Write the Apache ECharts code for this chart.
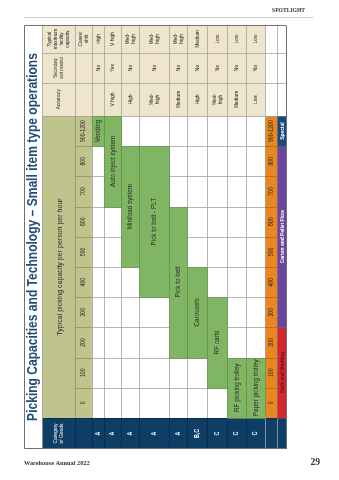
<!DOCTYPE html>
<html>
<head>
<meta charset="utf-8">
<script src="https://cdn.jsdelivr.net/npm/echarts@6/dist/echarts.min.js"></script>
<style>
  html, body { margin: 0; padding: 0; background: #ffffff; }
  #chart { width: 339px; height: 480px; }
</style>
</head>
<body>
<div id="chart"></div>
<script>
// ---- table content -------------------------------------------------------
const technologies = ['Vending', 'Auto inject system', 'Miniload system', 'Pick to belt - PLT',
  'Pick to belt', 'Carousels', 'RF carts', 'RF picking trolley', 'Paper picking trolley'];
const goodsCategory = ['A', 'A', 'A', 'A', 'A', 'B,C', 'C', 'C', 'C'];
const tickLabels = ['0', '100', '200', '300', '400', '500', '600', '700', '800', '900-1200'];
// picking capacity band of each technology (first and last tick it covers)
const capacityLow = ['900-1200', '700', '500', '400', '200', '200', '100', '0', '0'];
const capacityHigh = ['900-1200', '900-1200', '800', '800', '600', '400', '300', '100', '100'];
const accuracy = ['', 'V high', 'High', 'Med-high', 'Medium', 'High', 'Med-high', 'Medium', 'Low'];
const secondarySort = ['No', 'Yes', 'No', 'No', 'No', 'No', 'No', 'No', 'No'];
const facilityCapacity = ['High', 'V high', 'Med-high', 'Med-high', 'Med-high', 'Medium', 'Low', 'Low', 'Low'];
const storageTypes = ['Rack and Shelving', 'Carton and Pallet Flow', 'Special'];
const storageLow = ['0', '300', '900-1200'];
const storageHigh = ['200', '800', '900-1200'];

// ---- layout & style --------------------------------------------------------
const rowWeight = [12, 17, 18, 30, 18, 20, 20, 19, 19];
const rowEdge = rowWeight.reduce((a, w) => { a.push(a[a.length - 1] + w); return a; }, [0]);
const rowTotal = rowEdge[rowEdge.length - 1];

const FRAME = { l: 24, t: 25, r: 287, b: 449 };
const X = { title: 24, head: 42, sub: 75, rows: 92, tick: 265, store: 277, end: 287 };
const Y = { cap: 25, sec: 53, acc: 83, pick: 116, cat: 418, end: 449 };

const COL = {
  olive: '#bfc48c', oliveLine: '#8f9561', green: '#80b564', greenEdge: '#5d8f45',
  beige: '#eee5cc', navy: '#0e3d66', navyLine: '#082a4a', orange: '#ea861f', orangeLine: '#b8651a',
  red: '#d4262f', purple: '#6c449d', special: '#174a78', title: '#1f4e7a',
  grid: '#a3a3a3', frame: '#707070', text: '#262626'
};
const SANS = "'Liberation Sans', Arial, sans-serif";
const SERIF = "'Liberation Serif', 'DejaVu Serif', serif";
const NARROW = 0.82;
const ROT = Math.PI / 2;

function vtext(x, y, text, size, opt) {
  opt = opt || {};
  return {
    type: 'text', x: x, y: y, rotation: ROT, scaleX: opt.scale || NARROW, z: opt.z || 8,
    silent: true,
    style: {
      text: text, fill: opt.fill || COL.text, align: 'center', verticalAlign: 'middle',
      font: (opt.weight || 'normal') + ' ' + size + 'px ' + (opt.family || SANS),
      lineHeight: opt.lineHeight || Math.round(size * 1.05)
    }
  };
}
function rect(x0, y0, x1, y1, fill, z) {
  return { type: 'rect', z: z || 1, silent: true, shape: { x: x0, y: y0, width: x1 - x0, height: y1 - y0 }, style: { fill: fill } };
}
function line(x0, y0, x1, y1, stroke, z, w) {
  return { type: 'line', z: z || 2, silent: true, shape: { x1: x0, y1: y0, x2: x1, y2: y1 }, style: { stroke: stroke, lineWidth: w || 0.8 } };
}
const mid = (a, b) => (a + b) / 2;
const split = s => s === 'Med-high' ? 'Med-\nhigh' : s;

// ---- fixed table furniture -------------------------------------------------
const furniture = [
  // page header / footer
  line(24, 17.5, 313, 17.5, '#c9c9c9', 2, 1),
  { type: 'text', x: 305, y: 11, z: 8, silent: true, style: { text: 'SPOTLIGHT', fill: '#333', align: 'right', verticalAlign: 'middle', font: 'bold 5.6px ' + SERIF } },
  { type: 'text', x: 24, y: 463, z: 8, silent: true, style: { text: 'Warehouse Annual 2022', fill: '#333', align: 'left', verticalAlign: 'middle', font: 'bold 6.3px ' + SERIF } },
  { type: 'text', x: 320, y: 463, z: 8, silent: true, style: { text: '29', fill: '#333', align: 'right', verticalAlign: 'middle', font: 'bold 9.5px ' + SERIF } },

  // backgrounds
  rect(X.head, Y.cap, X.tick, Y.pick, COL.beige),
  rect(X.head, Y.pick, X.rows, Y.cat, COL.olive),
  rect(X.head, Y.cat, X.end, Y.end, COL.navy),
  rect(X.tick, Y.pick, X.store, Y.cat, COL.orange),

  // long lines across the table
  line(X.head, Y.sec + 0.5, X.end, Y.sec + 0.5, COL.grid),
  line(X.head, Y.acc + 0.5, X.end, Y.acc + 0.5, COL.grid),
  line(X.head, Y.pick + 0.5, X.end, Y.pick + 0.5, COL.grid),
  line(X.head, Y.cat + 0.5, X.end, Y.cat + 0.5, COL.navyLine),
  line(X.head + 0.5, Y.cap, X.head + 0.5, Y.end, COL.grid),
  line(X.sub + 0.5, Y.cap, X.sub + 0.5, Y.pick, COL.grid),
  line(X.sub + 0.5, Y.pick, X.sub + 0.5, Y.cat, COL.oliveLine),
  line(X.sub + 0.5, Y.cat, X.sub + 0.5, Y.end, COL.navyLine),
  line(X.rows + 0.5, Y.cap, X.rows + 0.5, Y.cat, COL.grid),
  line(X.rows + 0.5, Y.cat, X.rows + 0.5, Y.end, COL.navyLine),
  line(X.tick + 0.5, Y.cap, X.tick + 0.5, Y.end, COL.grid),
  line(X.store + 0.5, Y.cap, X.store + 0.5, Y.end, COL.grid),

  // header cells
  vtext(mid(X.head, X.sub), mid(Y.cap, Y.sec), 'Typical\nmaximum\nfacility\ncapacity', 5.8, { lineHeight: 6.2 }),
  vtext(mid(X.sub, X.rows), mid(Y.cap, Y.sec), 'Cases/\nshift', 5.8, { lineHeight: 6.2 }),
  vtext(mid(X.head, X.sub), mid(Y.sec, Y.acc), 'Secondary\nsort needed', 5, { lineHeight: 5.6 }),
  vtext(mid(X.head, X.sub), mid(Y.acc, Y.pick), 'Accuracy', 6),
  vtext(mid(X.head, X.sub) + 1, mid(Y.pick, Y.cat), 'Typical picking capacity per person per hour', 8, { scale: 0.88 }),
  vtext(mid(X.head, X.sub), mid(Y.cat, Y.end), 'Category\nof Goods', 6, { fill: '#ffffff', lineHeight: 6.4 }),

  // title
  vtext(mid(X.title, X.head), mid(FRAME.t, FRAME.b), 'Picking Capacities and Technology \u2013 Small item type operations', 14,
    { weight: 'bold', fill: COL.title, scale: 0.86 }),

  // outer frame
  { type: 'rect', z: 20, silent: true, shape: { x: FRAME.l + 0.5, y: FRAME.t + 0.5, width: FRAME.r - FRAME.l - 1, height: FRAME.b - FRAME.t - 1 },
    style: { fill: 'none', stroke: COL.frame, lineWidth: 1 } }
];

// ---- series ------------------------------------------------------------------
const colIndex = t => tickLabels.indexOf(t);

function rowBand(api, r) {
  return [api.coord([rowEdge[r], 0])[0], api.coord([rowEdge[r + 1], 0])[0]];
}

// per-row cells: grid line and the text columns
const rowData = technologies.map((t, i) => [i]);
function renderRow(params, api) {
  const r = api.value(0);
  const [x0, x1] = rowBand(api, r);
  const xr = Math.round(x1) + 0.5;
  const xm = mid(x0, x1);
  const kids = [];
  if (r < technologies.length - 1) {
    kids.push(line(xr, Y.cap, xr, Y.cat, COL.grid, 2));
    kids.push(line(xr, Y.cat, xr, Y.end, COL.navyLine, 2));
  }
  kids.push(vtext(xm, mid(Y.cap, Y.sec), split(facilityCapacity[r]), 6, { lineHeight: 6 }));
  kids.push(vtext(xm, mid(Y.sec, Y.acc), secondarySort[r], 6));
  kids.push(vtext(xm, mid(Y.acc, Y.pick), split(accuracy[r]), 6, { lineHeight: 6 }));
  kids.push(vtext(xm, mid(Y.cat, Y.end), goodsCategory[r], 6.5, { fill: '#ffffff', weight: 'bold' }));
  return { type: 'group', children: kids };
}

// capacity columns: tick labels in header and foot strip, column lines
const tickData = tickLabels.map((t, i) => [i]);
function renderTick(params, api) {
  const i = api.value(0);
  const yLo = api.coord([0, i])[1];
  const yHi = api.coord([0, i + 1])[1];
  const ym = mid(yLo, yHi);
  const kids = [];
  if (i > 0) {
    const yl = Math.round(yLo) + 0.5;
    kids.push(line(X.sub, yl, X.rows, yl, COL.oliveLine, 2));
    kids.push(line(X.rows, yl, X.tick, yl, COL.grid, 2));
    kids.push(line(X.tick, yl, X.store, yl, COL.orangeLine, 2));
  }
  kids.push(vtext(mid(X.sub, X.rows), ym, tickLabels[i], 6.3));
  kids.push(vtext(mid(X.tick, X.store), ym, tickLabels[i], 6.3));
  return { type: 'group', children: kids };
}

// technology capacity bands
const barData = technologies.map((t, i) => [i, colIndex(capacityLow[i]), colIndex(capacityHigh[i]) + 1]);
function renderBar(params, api) {
  const r = api.value(0);
  const [x0, x1] = rowBand(api, r);
  const yA = api.coord([0, api.value(1)])[1];
  const yB = api.coord([0, api.value(2)])[1];
  return {
    type: 'group', children: [
      { type: 'rect', z: 3, shape: { x: Math.round(x0) + 0.5, y: Math.round(yB) + 0.5, width: Math.round(x1) - Math.round(x0), height: Math.round(yA) - Math.round(yB) },
        style: { fill: COL.green, stroke: COL.greenEdge, lineWidth: 0.7 } },
      vtext(mid(x0, x1), mid(yA, yB), technologies[r], 7.7, { z: 9 })
    ]
  };
}

// storage system bands in the foot strip
const storeColors = [COL.red, COL.purple, COL.special];
const storeText = ['#3b0c10', '#ffffff', '#ffffff'];
const storeData = storageTypes.map((s, i) => [i, colIndex(storageLow[i]), colIndex(storageHigh[i]) + 1]);
function renderStore(params, api) {
  const k = api.value(0);
  const yA = api.coord([0, api.value(1)])[1];
  const yB = api.coord([0, api.value(2)])[1];
  return {
    type: 'group', children: [
      { type: 'rect', z: 3, shape: { x: X.store + 0.5, y: Math.round(yB) + 0.5, width: X.end - X.store - 1, height: Math.round(yA) - Math.round(yB) },
        style: { fill: storeColors[k], stroke: '#5a5a5a', lineWidth: 0.5 } },
      vtext(mid(X.store, X.end) + 0.3, mid(yA, yB), storageTypes[k], 6, { fill: storeText[k], weight: k ? 'bold' : 'normal' })
    ]
  };
}

const chart = echarts.init(document.getElementById('chart'), null, { renderer: 'canvas', width: 339, height: 480 });
chart.setOption({
  animation: false,
  backgroundColor: '#ffffff',
  grid: { left: X.rows, top: Y.pick, width: X.tick - X.rows, height: Y.cat - Y.pick, containLabel: false },
  xAxis: { type: 'value', min: 0, max: rowTotal, show: false },
  yAxis: { type: 'value', min: 0, max: tickLabels.length, interval: 1, show: false },
  graphic: { elements: furniture },
  series: [
    { type: 'custom', name: 'rows', z: 2, silent: true, data: rowData, renderItem: renderRow, encode: { x: 0 } },
    { type: 'custom', name: 'ticks', z: 2, silent: true, data: tickData, renderItem: renderTick, encode: { y: 0 } },
    { type: 'custom', name: 'technology', z: 4, silent: true, data: barData, renderItem: renderBar, encode: { x: 0, y: [1, 2] } },
    { type: 'custom', name: 'storage', z: 4, silent: true, data: storeData, renderItem: renderStore, encode: { y: [1, 2] } }
  ]
});
</script>
</body>
</html>
